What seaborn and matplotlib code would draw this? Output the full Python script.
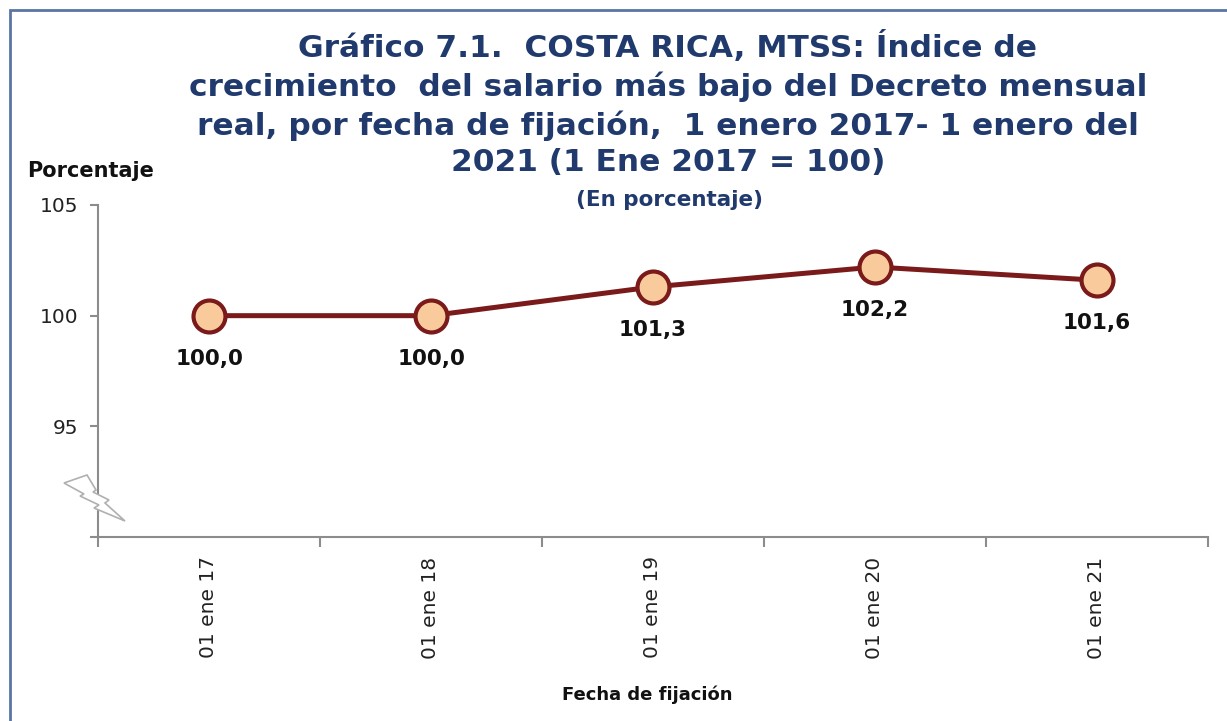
import pandas as pd
import matplotlib.pyplot as plt
import seaborn as sns
from matplotlib.patches import Polygon, Rectangle

# -----------------------------
# Datos
# -----------------------------
fechas = ["01 ene 17", "01 ene 18", "01 ene 19", "01 ene 20", "01 ene 21"]
indice = [100.0, 100.0, 101.3, 102.2, 101.6]
etiquetas = ["100,0", "100,0", "101,3", "102,2", "101,6"]
y_ticks = [90, 95, 100, 105]
y_ticklabels = ["", "95", "100", "105"]

df = pd.DataFrame({"fecha": fechas, "indice": indice})

# -----------------------------
# Estilo
# -----------------------------
sns.set_style("white")
plt.rcParams['font.family'] = ['DejaVu Sans']

azul = "#203A6E"
granate = "#7B1A1A"
gris = "#8C8C8C"

fig = plt.figure(figsize=(12.27, 7.21), dpi=100)
ax = fig.add_axes([98 / 1227, 1 - 537 / 721, 1110 / 1227, 332 / 721])

sns.lineplot(data=df, x="fecha", y="indice", sort=False, ax=ax,
             color=granate, linewidth=3.6, marker="o", markersize=23,
             markerfacecolor="#F9CB9C", markeredgecolor=granate,
             markeredgewidth=3)

for i, (v, t) in enumerate(zip(indice, etiquetas)):
    ax.annotate(t, xy=(i, v), xytext=(0, -31), textcoords="offset points",
                ha="center", va="center", fontsize=15.5, fontweight="bold",
                color="#111111")

# -----------------------------
# Ejes
# -----------------------------
ax.set_xlim(-0.5, 4.5)
ax.set_ylim(90, 105)
ax.set_yticks(y_ticks)
ax.set_yticklabels(y_ticklabels, fontsize=14.5, color="#222222")
ax.set_xticks(range(len(fechas)))
ax.set_xticklabels(fechas, rotation=90, fontsize=14.5, color="#222222")
ax.set_xticks([i - 0.5 for i in range(len(fechas) + 1)], minor=True)
ax.tick_params(axis="x", which="major", length=0, pad=14)
ax.tick_params(axis="x", which="minor", bottom=True, length=7, width=1.5,
               color=gris, direction="out")
ax.tick_params(axis="y", length=6, width=1.5, color=gris, direction="out",
               left=True, pad=8)
ax.set_xlabel("")
ax.set_ylabel("")
for s in ["top", "right"]:
    ax.spines[s].set_visible(False)
for s in ["left", "bottom"]:
    ax.spines[s].set_color(gris)
    ax.spines[s].set_linewidth(1.5)

# -----------------------------
# Simbolo de corte del eje
# -----------------------------
rayo_px = [(64, 483), (87, 475), (96, 490), (93, 492), (109, 500),
           (105, 503), (125, 521), (94, 508), (99, 505), (80, 496),
           (84, 494)]
rayo = Polygon([(x / 1227, 1 - y / 721) for x, y in rayo_px], closed=True,
               transform=fig.transFigure, facecolor="white",
               edgecolor="#B0B0B0", linewidth=1.2, zorder=5)
fig.patches.append(rayo)

# -----------------------------
# Textos
# -----------------------------
titulo = ("Gráfico 7.1.  COSTA RICA, MTSS: Índice de\n"
          "crecimiento  del salario más bajo del Decreto mensual\n"
          "real, por fecha de fijación,  1 enero 2017- 1 enero del\n"
          "2021 (1 Ene 2017 = 100)")
fig.text(668 / 1227, 1 - 31 / 721, titulo, ha="center", va="top",
         fontsize=22.5, fontweight="bold", color=azul, linespacing=1.34)
fig.text(669 / 1227, 1 - 200 / 721, "(En porcentaje)", ha="center",
         va="center", fontsize=15.5, fontweight="bold", color=azul)
fig.text(27 / 1227, 1 - 171 / 721, "Porcentaje", ha="left", va="center",
         fontsize=15, fontweight="bold", color="#111111")
fig.text(647 / 1227, 1 - 695 / 721, "Fecha de fijación", ha="center",
         va="center", fontsize=13, fontweight="bold", color="#111111")

# Marco
fig.patches.append(Rectangle((10 / 1227, -0.1), 1.2, 1 - 10 / 721 + 0.1,
                             transform=fig.transFigure, fill=False,
                             edgecolor="#5B73A6", linewidth=2))

fig.savefig("out.png", dpi=100)
